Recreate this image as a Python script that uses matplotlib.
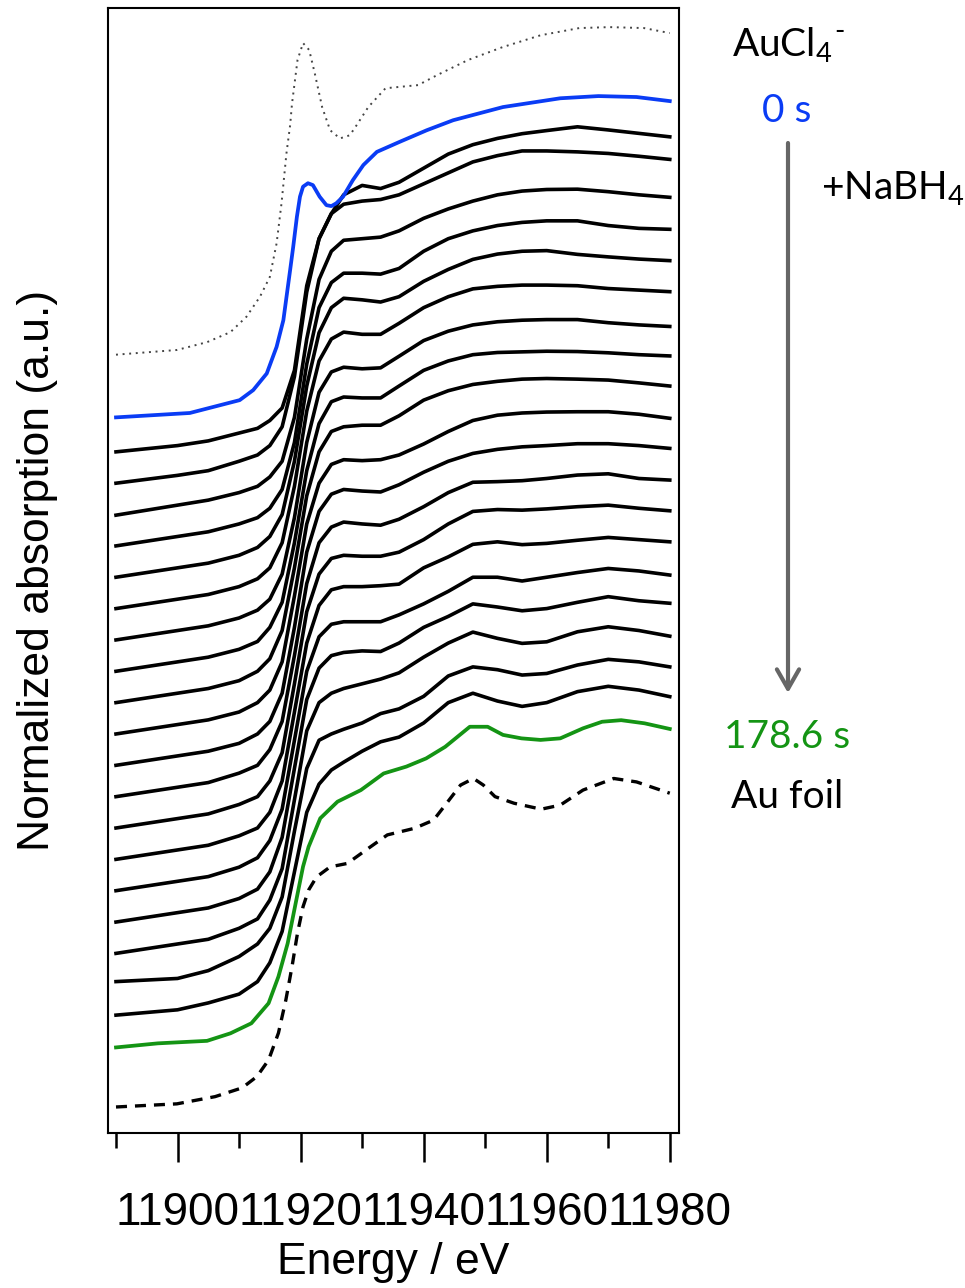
"""Au L3-edge XANES during NaBH4 reduction of AuCl4-, stacked spectra."""

import matplotlib
matplotlib.use("Agg")
import matplotlib.pyplot as plt
from matplotlib.patches import FancyArrowPatch, ArrowStyle

plt.rcParams["font.family"] = ["Liberation Sans", "DejaVu Sans"]
plt.rcParams["mathtext.fontset"] = "custom"
plt.rcParams["mathtext.rm"] = "Lato"

# common energy grid of the time-resolved (black) spectra, eV
energy = [11890, 11900, 11905, 11910, 11913, 11915, 11917, 11919, 11921, 11923,
          11925, 11927, 11930, 11933, 11936, 11940, 11944, 11948, 11952, 11956,
          11960, 11965, 11970, 11975, 11980]

# normalized absorption, first spectrum after 0 s down to the last before 178.6 s
black_spectra = [
    [-0.01, 0.01, 0.025, 0.05, 0.065, 0.09, 0.13, 0.25, 0.52, 0.67, 0.75, 0.81, 0.84, 0.83, 0.85, 0.895, 0.94, 0.97, 0.99, 1.005, 1.015, 1.027, 1.017, 1.006, 0.995],
    [-0.01, 0.015, 0.03, 0.06, 0.08, 0.11, 0.17, 0.33, 0.60, 0.77, 0.85, 0.88, 0.89, 0.895, 0.91, 0.945, 0.98, 1.015, 1.035, 1.05, 1.05, 1.047, 1.042, 1.033, 1.023],
    [-0.012, 0.02, 0.036, 0.06, 0.08, 0.11, 0.16, 0.30, 0.55, 0.74, 0.83, 0.865, 0.87, 0.875, 0.895, 0.935, 0.965, 0.99, 1.01, 1.022, 1.027, 1.028, 1.02, 1.01, 1.002],
    [-0.01, 0.02, 0.035, 0.06, 0.08, 0.11, 0.17, 0.32, 0.57, 0.75, 0.83, 0.86, 0.86, 0.857, 0.875, 0.93, 0.97, 0.995, 1.012, 1.022, 1.027, 1.027, 1.012, 1.003, 1.0],
    [-0.01, 0.02, 0.035, 0.06, 0.085, 0.12, 0.19, 0.36, 0.60, 0.77, 0.85, 0.88, 0.875, 0.868, 0.885, 0.934, 0.972, 1.004, 1.021, 1.03, 1.032, 1.02, 1.012, 1.005, 1.0],
    [-0.01, 0.02, 0.035, 0.06, 0.085, 0.12, 0.20, 0.38, 0.62, 0.78, 0.85, 0.872, 0.865, 0.865, 0.90, 0.95, 0.985, 1.01, 1.018, 1.022, 1.022, 1.02, 1.011, 1.006, 1.001],
    [-0.01, 0.02, 0.035, 0.06, 0.085, 0.12, 0.20, 0.38, 0.62, 0.78, 0.845, 0.86, 0.855, 0.858, 0.895, 0.945, 0.975, 0.995, 1.005, 1.01, 1.012, 1.012, 1.002, 0.995, 0.99],
    [-0.01, 0.02, 0.035, 0.06, 0.085, 0.13, 0.21, 0.40, 0.63, 0.78, 0.85, 0.865, 0.862, 0.862, 0.90, 0.95, 0.98, 1.0, 1.007, 1.009, 1.011, 1.01, 1.006, 1.0, 0.996],
    [-0.01, 0.02, 0.035, 0.06, 0.09, 0.13, 0.22, 0.42, 0.65, 0.79, 0.855, 0.87, 0.875, 0.875, 0.905, 0.955, 0.985, 1.005, 1.015, 1.022, 1.024, 1.022, 1.019, 1.01, 1.0],
    [-0.01, 0.02, 0.035, 0.06, 0.09, 0.13, 0.22, 0.43, 0.66, 0.79, 0.85, 0.865, 0.862, 0.865, 0.88, 0.915, 0.955, 0.99, 1.007, 1.014, 1.017, 1.018, 1.018, 1.01, 0.997],
    [-0.01, 0.02, 0.035, 0.06, 0.09, 0.13, 0.22, 0.43, 0.67, 0.80, 0.855, 0.87, 0.865, 0.862, 0.885, 0.925, 0.96, 0.985, 0.998, 1.006, 1.01, 1.016, 1.016, 1.01, 1.001],
    [-0.01, 0.02, 0.035, 0.065, 0.09, 0.14, 0.23, 0.44, 0.67, 0.80, 0.85, 0.866, 0.86, 0.856, 0.875, 0.915, 0.96, 0.993, 0.995, 0.998, 1.005, 1.016, 1.02, 1.005, 1.0],
    [-0.01, 0.02, 0.035, 0.065, 0.09, 0.14, 0.23, 0.45, 0.68, 0.80, 0.85, 0.86, 0.857, 0.857, 0.87, 0.91, 0.96, 1.0, 1.006, 1.004, 1.008, 1.015, 1.02, 1.01, 1.002],
    [-0.01, 0.02, 0.035, 0.065, 0.09, 0.14, 0.24, 0.46, 0.68, 0.80, 0.85, 0.86, 0.86, 0.863, 0.868, 0.92, 0.955, 0.995, 1.003, 0.994, 0.998, 1.008, 1.017, 1.01, 1.003],
    [-0.01, 0.02, 0.035, 0.065, 0.095, 0.15, 0.25, 0.47, 0.69, 0.80, 0.84, 0.848, 0.848, 0.848, 0.87, 0.905, 0.945, 0.99, 0.99, 0.978, 0.99, 1.005, 1.018, 1.01, 0.997],
    [-0.01, 0.02, 0.035, 0.065, 0.095, 0.15, 0.26, 0.48, 0.70, 0.80, 0.84, 0.85, 0.855, 0.853, 0.88, 0.93, 0.965, 1.005, 0.995, 0.983, 0.99, 1.01, 1.028, 1.015, 1.007],
    [-0.01, 0.02, 0.035, 0.07, 0.10, 0.16, 0.26, 0.48, 0.70, 0.79, 0.82, 0.835, 0.85, 0.865, 0.885, 0.935, 0.98, 1.015, 0.995, 0.979, 0.984, 1.016, 1.032, 1.02, 1.002],
    [0.0, 0.01, 0.035, 0.08, 0.12, 0.17, 0.27, 0.48, 0.68, 0.77, 0.79, 0.805, 0.825, 0.855, 0.87, 0.91, 0.975, 1.004, 0.995, 0.978, 0.983, 1.01, 1.028, 1.02, 1.004],
    [-0.007, 0.01, 0.032, 0.06, 0.10, 0.16, 0.26, 0.45, 0.64, 0.73, 0.775, 0.80, 0.835, 0.865, 0.88, 0.925, 0.99, 1.02, 0.995, 0.978, 0.99, 1.025, 1.042, 1.03, 1.009],
]

# 0 s spectrum
energy_start = [11890, 11902, 11910.1, 11912.3, 11914.5, 11916.1, 11917.2, 11918.3, 11918.8, 11919.4,
                11919.9, 11920.4, 11921.2, 11922.0, 11923.1, 11924.2, 11925.0, 11925.8, 11926.9, 11928.5,
                11930.2, 11932.4, 11936.1, 11940.5, 11944.8, 11952.9, 11962.2, 11968.4, 11974.6, 11980]
mu_start = [0.0, 0.014, 0.055, 0.087, 0.140, 0.225, 0.310, 0.470, 0.544, 0.640,
            0.704, 0.736, 0.747, 0.741, 0.704, 0.677, 0.674, 0.683, 0.704, 0.757,
            0.805, 0.847, 0.879, 0.916, 0.948, 0.990, 1.018, 1.025, 1.022, 1.009]

# 178.6 s spectrum
energy_end = [11890, 11896.8, 11904.8, 11908.6, 11912.0, 11914.8, 11916.4, 11917.9, 11919.2, 11920.4,
              11921.3, 11923.2, 11926.0, 11929.8, 11933.5, 11937.2, 11940.4, 11943.5, 11947.5, 11950.4,
              11952.9, 11955.9, 11959.0, 11962.2, 11965.9, 11969.0, 11972.1, 11975.9, 11980]
mu_end = [-0.010, 0.003, 0.011, 0.035, 0.067, 0.131, 0.216, 0.322, 0.450, 0.567,
          0.630, 0.721, 0.774, 0.811, 0.864, 0.886, 0.912, 0.949, 1.013, 1.013,
          0.987, 0.976, 0.971, 0.976, 1.008, 1.029, 1.034, 1.024, 1.006]

# AuCl4- reference
energy_aucl4 = [11890, 11899.9, 11904.8, 11908.6, 11911.2, 11913.4, 11915.0, 11916.1, 11916.9, 11917.7,
                11918.3, 11918.6, 11919.5, 11920.4, 11921.4, 11922.3, 11923.5, 11924.8, 11926.4, 11928.0,
                11929.1, 11931.0, 11933.8, 11939.1, 11942.2, 11947.2, 11952.8, 11959.0, 11965.3, 11970.2,
                11975.8, 11980]
mu_aucl4 = [0.0, 0.015, 0.040, 0.072, 0.121, 0.185, 0.248, 0.355, 0.483, 0.642,
            0.732, 0.800, 0.940, 0.994, 0.972, 0.898, 0.790, 0.716, 0.690, 0.700,
            0.732, 0.790, 0.850, 0.860, 0.892, 0.940, 0.981, 1.019, 1.042, 1.045,
            1.042, 1.026]

# Au foil reference
energy_foil = [11890, 11899.9, 11906.1, 11910.5, 11912.9, 11914.8, 11916.4, 11917.6, 11918.6, 11919.5,
               11920.4, 11921.3, 11922.6, 11924.8, 11927.6, 11931.0, 11934.1, 11938.5, 11941.6, 11943.5,
               11946.0, 11948.1, 11949.7, 11951.6, 11954.7, 11959.1, 11962.2, 11965.9, 11970.9, 11974.6,
               11980]
mu_foil = [0.0, 0.010, 0.033, 0.061, 0.097, 0.150, 0.236, 0.341, 0.447, 0.555,
           0.639, 0.692, 0.734, 0.766, 0.777, 0.825, 0.868, 0.889, 0.915, 0.963,
           1.027, 1.048, 1.027, 0.990, 0.969, 0.950, 0.963, 1.011, 1.048, 1.037,
           1.001]

blue = "#0a3cf5"
green = "#149414"

fig = plt.figure(figsize=(9.65, 12.88), dpi=100)
ax = fig.add_axes([108 / 965, 1 - 1133 / 1288, 571 / 965, 1125 / 1288])

# vertical stacking: foil at the bottom, AuCl4- on top
step = 0.1
n_black = len(black_spectra)
end_offset = 2 * step
start_offset = end_offset + step * (n_black + 1)

ax.plot(energy_foil, mu_foil, color="black", lw=2.4, ls=(0, (3.3, 2.4)))
ax.plot(energy_end, [m + end_offset for m in mu_end], color=green, lw=2.7)
for i, spec in enumerate(black_spectra):
    off = end_offset + step * (n_black - i)
    ax.plot(energy, [m + off for m in spec], color="black", lw=2.6,
            solid_joinstyle="round")
ax.plot(energy_start, [m + start_offset for m in mu_start], color=blue, lw=2.7)
ax.plot(energy_aucl4, [m + start_offset + 2 * step for m in mu_aucl4],
        color="#444444", lw=1.4, ls=(0, (1, 2.4)))

ax.set_xlim(11888.7, 11981.5)
ax.set_ylim(-0.083, 3.506)
ax.set_xticks([11900, 11920, 11940, 11960, 11980])
ax.set_xticks([11890, 11910, 11930, 11950, 11970], minor=True)
ax.set_yticks([])
ax.tick_params(axis="x", which="major", direction="out", length=21, width=1.8,
               labelsize=33, pad=21)
ax.tick_params(axis="x", which="minor", direction="out", length=11, width=1.8)
for sp in ax.spines.values():
    sp.set_linewidth(1.5)

ax.set_xlabel("Energy / eV", fontsize=32, labelpad=5)
ax.set_ylabel("Normalized absorption (a.u.)", fontsize=32)
ax.yaxis.set_label_coords(-0.088, 0.5)


def fpos(x, y):
    return x / 965, 1 - y / 1288


lab = dict(family=["Lato", "DejaVu Sans"], fontsize=28, va="baseline")
t = fig.text(*fpos(782, 57), r"AuCl$_{4}$", ha="center", **lab)
fig.text(*fpos(787, 122), "0 s", ha="center", color=blue, **lab)
fig.text(*fpos(821, 200), r"+NaBH$_{4}$", ha="left", **lab)
fig.text(*fpos(787, 748), "178.6 s", ha="center", color=green, **lab)
fig.text(*fpos(787, 808), "Au foil", ha="center", **lab)

# short hyphen as the charge, set just after the subscript
fig.canvas.draw()
bb = t.get_window_extent()
fig.text((bb.x1 + 2) / 965, 1 - 40 / 1288, "-", ha="left", va="baseline",
         family=["Lato", "DejaVu Sans"], fontsize=20)

arrow = FancyArrowPatch(fpos(788, 143), fpos(788, 693), transform=fig.transFigure,
                        arrowstyle=ArrowStyle("->", head_length=14, head_width=8),
                        color="#666666", lw=3, shrinkA=0, shrinkB=0)
fig.patches.append(arrow)

fig.savefig("out.png", dpi=100)
